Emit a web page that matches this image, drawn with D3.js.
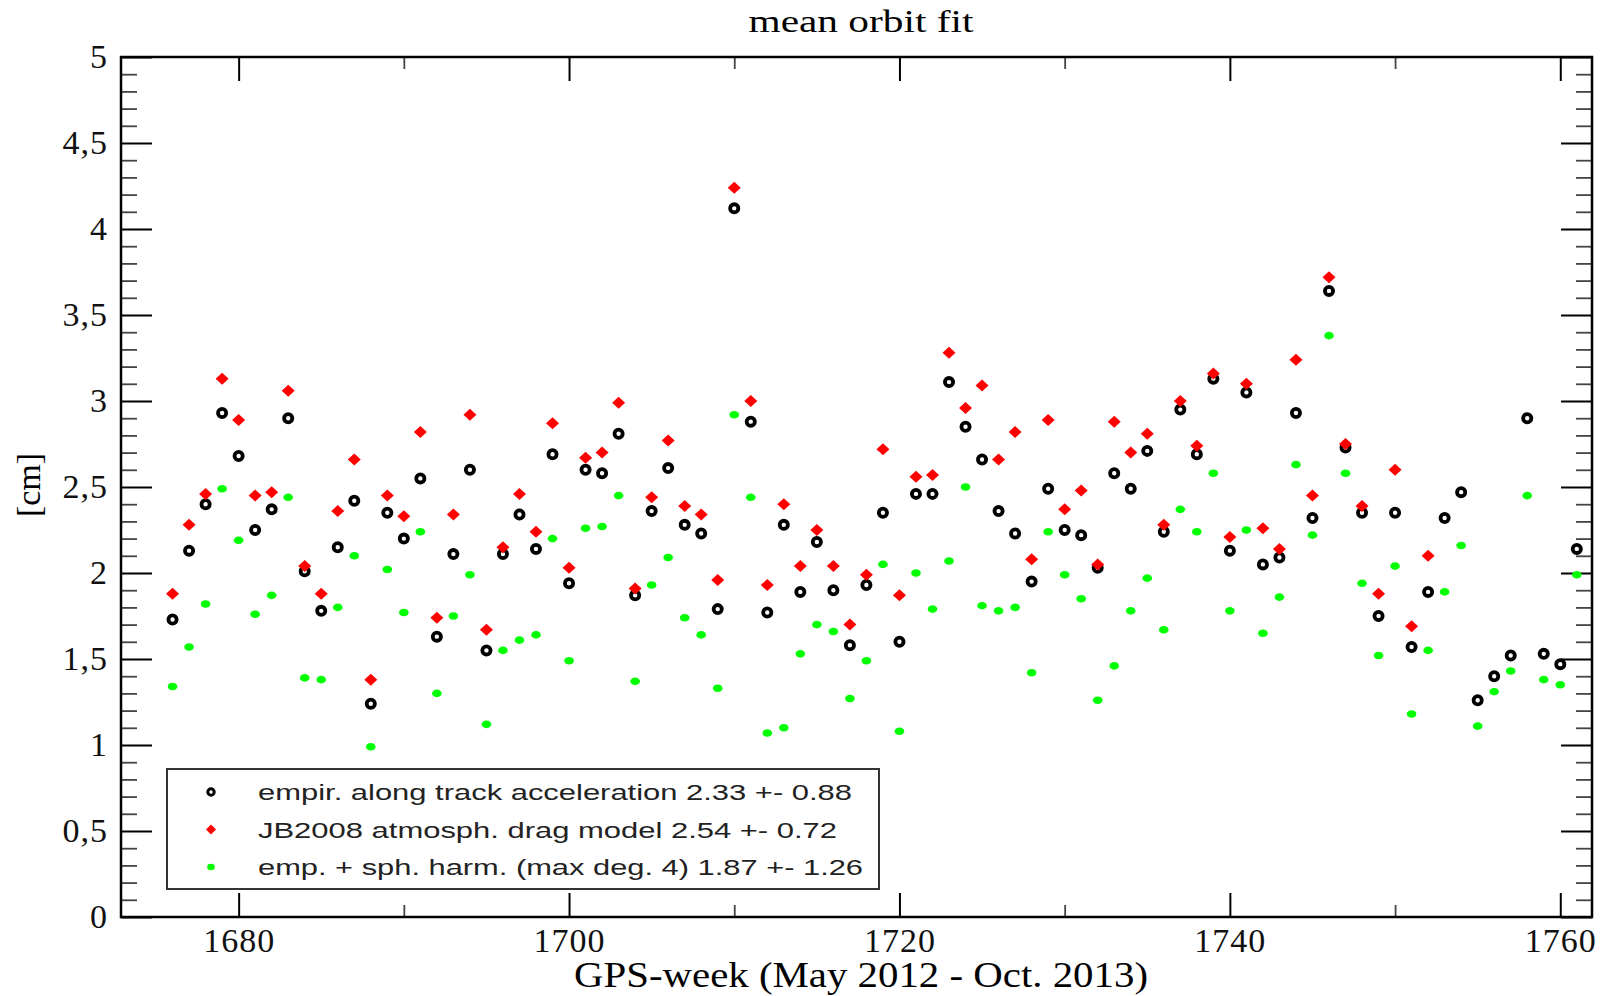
<!DOCTYPE html>
<html>
<head>
<meta charset="utf-8">
<script src="https://cdn.jsdelivr.net/npm/d3@7"></script>
<style>
  body { margin: 0; background: #fff; }
  .tick line { stroke: #000; stroke-width: 2; }
  .tick text { font-family: 'Liberation Serif', 'Times New Roman', serif; font-size: 34px; letter-spacing: 1px; fill: #111; }
</style>
</head>
<body>
<svg id="chart" width="1614" height="996"></svg>
<script>
// GPS weeks
const weeks = [
  1676, 1677, 1678, 1679, 1680, 1681, 1682, 1683, 1684, 1685,
  1686, 1687, 1688, 1689, 1690, 1691, 1692, 1693, 1694, 1695,
  1696, 1697, 1698, 1699, 1700, 1701, 1702, 1703, 1704, 1705,
  1706, 1707, 1708, 1709, 1710, 1711, 1712, 1713, 1714, 1715,
  1716, 1717, 1718, 1719, 1720, 1721, 1722, 1723, 1724, 1725,
  1726, 1727, 1728, 1729, 1730, 1731, 1732, 1733, 1734, 1735,
  1736, 1737, 1738, 1739, 1740, 1741, 1742, 1743, 1744, 1745,
  1746, 1747, 1748, 1749, 1750, 1751, 1752, 1753, 1754, 1755,
  1756, 1757, 1758, 1759, 1760, 1761
];

// empir. along track acceleration (black)
const empirAcc = [
  1.73, 2.13, 2.40, 2.93, 2.68, 2.25, 2.37, 2.90, 2.01, 1.78,
  2.15, 2.42, 1.24, 2.35, 2.20, 2.55, 1.63, 2.11, 2.60, 1.55,
  2.11, 2.34, 2.14, 2.69, 1.94, 2.60, 2.58, 2.81, 1.87, 2.36,
  2.61, 2.28, 2.23, 1.79, 4.12, 2.88, 1.77, 2.28, 1.89, 2.18,
  1.90, 1.58, 1.93, 2.35, 1.60, 2.46, 2.46, 3.11, 2.85, 2.66,
  2.36, 2.23, 1.95, 2.49, 2.25, 2.22, 2.03, 2.58, 2.49, 2.71,
  2.24, 2.95, 2.69, 3.13, 2.13, 3.05, 2.05, 2.09, 2.93, 2.32,
  3.64, 2.73, 2.35, 1.75, 2.35, 1.57, 1.89, 2.32, 2.47, 1.26,
  1.40, 1.52, 2.90, 1.53, 1.47, 2.14
];

// JB2008 atmosph. drag model (red), weeks 1676..1752
const jb2008 = [
  1.88, 2.28, 2.46, 3.13, 2.89, 2.45, 2.47, 3.06, 2.04, 1.88,
  2.36, 2.66, 1.38, 2.45, 2.33, 2.82, 1.74, 2.34, 2.92, 1.67,
  2.15, 2.46, 2.24, 2.87, 2.03, 2.67, 2.70, 2.99, 1.91, 2.44,
  2.77, 2.39, 2.34, 1.96, 4.24, 3.00, 1.93, 2.40, 2.04, 2.25,
  2.04, 1.70, 1.99, 2.72, 1.87, 2.56, 2.57, 3.28, 2.96, 3.09,
  2.66, 2.82, 2.08, 2.89, 2.37, 2.48, 2.05, 2.88, 2.70, 2.81,
  2.28, 3.00, 2.74, 3.16, 2.21, 3.10, 2.26, 2.14, 3.24, 2.45,
  3.72, 2.75, 2.39, 1.88, 2.60, 1.69, 2.10
];

// emp. + sph. harm. (max deg. 4) (green)
const empSphHarm = [
  1.34, 1.57, 1.82, 2.49, 2.19, 1.76, 1.87, 2.44, 1.39, 1.38,
  1.80, 2.10, 0.99, 2.02, 1.77, 2.24, 1.30, 1.75, 1.99, 1.12,
  1.55, 1.61, 1.64, 2.20, 1.49, 2.26, 2.27, 2.45, 1.37, 1.93,
  2.09, 1.74, 1.64, 1.33, 2.92, 2.44, 1.07, 1.10, 1.53, 1.70,
  1.66, 1.27, 1.49, 2.05, 1.08, 2.00, 1.79, 2.07, 2.50, 1.81,
  1.78, 1.80, 1.42, 2.24, 1.99, 1.85, 1.26, 1.46, 1.78, 1.97,
  1.67, 2.37, 2.24, 2.58, 1.78, 2.25, 1.65, 1.86, 2.63, 2.22,
  3.38, 2.58, 1.94, 1.52, 2.04, 1.18, 1.55, 1.89, 2.16, 1.11,
  1.31, 1.43, 2.45, 1.38, 1.35, 1.99
];

const legendLabels = [
  'empir. along track acceleration 2.33 +- 0.88',
  'JB2008 atmosph. drag model 2.54 +- 0.72',
  'emp. + sph. harm. (max deg. 4) 1.87 +- 1.26'
];
const xMajorTicks = [1680, 1700, 1720, 1740, 1760];
const xMinorTicks = [1690, 1710, 1730, 1750];
const yMajorTicks = [0, 0.5, 1, 1.5, 2, 2.5, 3, 3.5, 4, 4.5, 5];

const margin = { left: 121, right: 22, top: 57, bottom: 79 };
const outerWidth = 1614, outerHeight = 996;
const width = outerWidth - margin.left - margin.right;
const height = outerHeight - margin.top - margin.bottom;

const svg = d3.select('#chart');
const x = d3.scaleLinear().domain([1672.88, 1761.92]).range([0, width]);
const y = d3.scaleLinear().domain([0, 5]).range([height, 0]);

const g = svg.append('g')
  .attr('transform', 'translate(' + margin.left + ',' + margin.top + ')');

const yMinorTicks = d3.range(1, 50).map(d => d / 10).filter(d => Math.round(d * 10) % 5 !== 0);
const fmt = d => String(d).replace('.', ',');

// axes, ticks pointing inward on all four sides
g.append('g').attr('transform', 'translate(0,' + height + ')')
  .call(d3.axisBottom(x).tickValues(xMajorTicks).tickSize(-24).tickPadding(11).tickFormat(d3.format('d')));
g.append('g').attr('transform', 'translate(0,' + height + ')')
  .call(d3.axisBottom(x).tickValues(xMinorTicks).tickSize(-12).tickFormat(''));
g.append('g')
  .call(d3.axisTop(x).tickValues(xMajorTicks).tickSize(-24).tickFormat(''));
g.append('g')
  .call(d3.axisTop(x).tickValues(xMinorTicks).tickSize(-12).tickFormat(''));
g.append('g')
  .call(d3.axisLeft(y).tickValues(yMajorTicks).tickSize(-31).tickPadding(13).tickFormat(fmt));
g.append('g')
  .call(d3.axisLeft(y).tickValues(yMinorTicks).tickSize(-16).tickFormat(''));
g.append('g').attr('transform', 'translate(' + width + ',0)')
  .call(d3.axisRight(y).tickValues(yMajorTicks).tickSize(-31).tickFormat(''));
g.append('g').attr('transform', 'translate(' + width + ',0)')
  .call(d3.axisRight(y).tickValues(yMinorTicks).tickSize(-16).tickFormat(''));
g.selectAll('.domain').remove();
g.selectAll('.tick line').filter(function () {
  return Math.abs(+d3.select(this).attr('x2') || +d3.select(this).attr('y2')) < 20;
}).style('stroke', '#444').style('stroke-width', 1.8);

g.append('rect')
  .attr('width', width).attr('height', height)
  .attr('fill', 'none').attr('stroke', '#000').attr('stroke-width', 2.5);

// markers
const diamond = 'M0,-6L6.5,0L0,6L-6.5,0Z';

g.append('g').selectAll('circle')
  .data(weeks.map((w, i) => [w, empirAcc[i]]))
  .enter().append('circle')
  .attr('cx', d => x(d[0])).attr('cy', d => y(d[1]))
  .attr('r', 4.1)
  .attr('fill', '#fff').attr('stroke', '#000').attr('stroke-width', 3.8);

g.append('g').selectAll('path')
  .data(jb2008.map((v, i) => [weeks[i], v]))
  .enter().append('path')
  .attr('d', diamond)
  .attr('transform', d => 'translate(' + x(d[0]) + ',' + y(d[1]) + ')')
  .attr('fill', '#ff0000');

g.append('g').selectAll('ellipse')
  .data(weeks.map((w, i) => [w, empSphHarm[i]]))
  .enter().append('ellipse')
  .attr('cx', d => x(d[0])).attr('cy', d => y(d[1]))
  .attr('rx', 4.8).attr('ry', 3.8)
  .attr('fill', '#00ff00');

// legend
const legend = svg.append('g').attr('transform', 'translate(167,769)');
legend.append('rect')
  .attr('width', 712).attr('height', 120)
  .attr('fill', '#fff').attr('stroke', '#333').attr('stroke-width', 2);
const legendRows = legend.selectAll('.row')
  .data(legendLabels)
  .enter().append('g')
  .attr('transform', (d, i) => 'translate(0,' + (23 + i * 37.5) + ')');
legendRows.filter((d, i) => i === 0).append('circle')
  .attr('cx', 44).attr('r', 3.2)
  .attr('fill', '#fff').attr('stroke', '#000').attr('stroke-width', 3);
legendRows.filter((d, i) => i === 1).append('path')
  .attr('d', 'M0,-5L5,0L0,5L-5,0Z').attr('transform', 'translate(44,0)')
  .attr('fill', '#ff0000');
legendRows.filter((d, i) => i === 2).append('ellipse')
  .attr('cx', 44).attr('rx', 3.8).attr('ry', 3.2)
  .attr('fill', '#00ff00');
const legendWidths = [594, 579, 605];
legendRows.append('text')
  .attr('x', 91).attr('y', 8)
  .attr('textLength', (d, i) => legendWidths[i])
  .attr('lengthAdjust', 'spacingAndGlyphs')
  .style('font-family', "'Liberation Sans', Arial, sans-serif")
  .style('font-size', '22px')
  .style('fill', '#222')
  .text(d => d);

// title and axis labels
svg.append('text')
  .attr('x', 861).attr('y', 32)
  .attr('text-anchor', 'middle')
  .attr('textLength', 225).attr('lengthAdjust', 'spacingAndGlyphs')
  .style('font-family', "'Liberation Serif', serif").style('font-size', '31px')
  .text('mean orbit fit');

svg.append('text')
  .attr('x', 861).attr('y', 987)
  .attr('text-anchor', 'middle')
  .attr('textLength', 574).attr('lengthAdjust', 'spacingAndGlyphs')
  .style('font-family', "'Liberation Serif', serif").style('font-size', '35px')
  .text('GPS-week (May 2012 - Oct. 2013)');

svg.append('text')
  .attr('transform', 'translate(40,485) rotate(-90)')
  .attr('text-anchor', 'middle')
  .style('font-family', "'Liberation Serif', serif").style('font-size', '34px')
  .text('[cm]');
</script>
</body>
</html>
